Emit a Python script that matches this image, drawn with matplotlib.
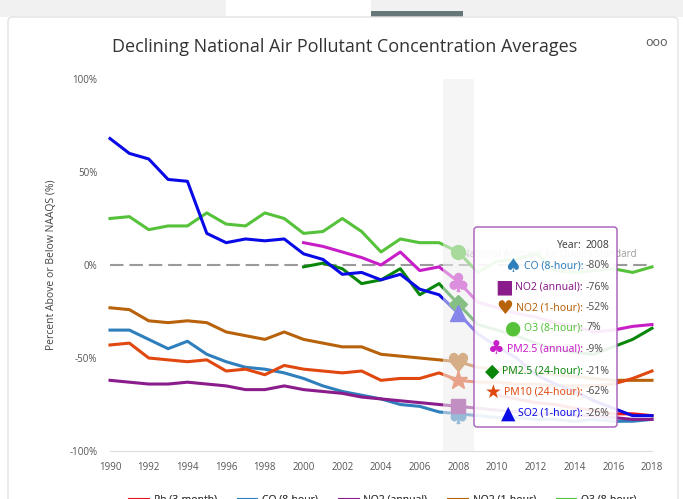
import numpy as np
import matplotlib
matplotlib.use("Agg")
import matplotlib.pyplot as plt
from matplotlib.patches import FancyBboxPatch, Rectangle
from matplotlib.offsetbox import TextArea, HPacker, AnnotationBbox

plt.rcParams['font.family'] = ['Open Sans', 'DejaVu Sans']

nan = np.nan
years = list(range(1990, 2019))

pb = [nan] * 20 + [-70, -72, -74, -75, -77, -78, -80, -80, -81]
co = [-35, -35, -40, -45, -41, -48, -52, -55, -56, -58, -61, -65, -68, -70, -72,
      -75, -76, -79, -80, -81, -82, -82, -83, -83, -84, -83, -84, -84, -83]
no2_annual = [-62, -63, -64, -64, -63, -64, -65, -67, -67, -65, -67, -68, -69, -71, -72,
              -73, -74, -75, -76, -77, -78, -79, -80, -80, -81, -81, -82, -83, -83]
no2_1hr = [-23, -24, -30, -31, -30, -31, -36, -38, -40, -36, -40, -42, -44, -44, -48,
           -49, -50, -51, -52, -55, -56, -57, -58, -59, -60, -61, -62, -62, -62]
o3 = [25, 26, 19, 21, 21, 28, 22, 21, 28, 25, 17, 18, 25, 18, 7,
      14, 12, 12, 7, -4, 2, 3, 6, -3, -4, -3, -2, -4, -1]
pm25_annual = [nan] * 10 + [12, 10, 7, 4, 0, 7, -3, -1, -9, -20, -23, -26, -28, -31,
                            -33, -36, -35, -33, -32]
pm25_24hr = [nan] * 10 + [-1, 1, -2, -10, -8, -2, -16, -10, -21, -32, -35, -38, -42,
                          -45, -47, -48, -44, -40, -34]
pm10 = [-43, -42, -50, -51, -52, -51, -57, -56, -59, -54, -56, -57, -58, -57, -62,
        -61, -61, -58, -62, -63, -63, -64, -64, -65, -65, -65, -64, -61, -57]
so2 = [68, 60, 57, 46, 45, 17, 12, 14, 13, 14, 6, 3, -5, -4, -8,
       -5, -13, -16, -26, -37, -44, -50, -59, -64, -68, -73, -77, -81, -81]

names = ['Pb (3-month)', 'CO (8-hour)', 'NO2 (annual)', 'NO2 (1-hour)', 'O3 (8-hour)',
         'PM2.5 (annual)', 'PM2.5 (24-hour)', 'PM10 (24-hour)', 'SO2 (1-hour)']
series = [pb, co, no2_annual, no2_1hr, o3, pm25_annual, pm25_24hr, pm10, so2]
colors = ['#e8141c', '#2f7fbd', '#8b1c8b', '#b8620b', '#55c23a',
          '#c81ec8', '#0a870a', '#e0480f', '#0a0ae6']
markers = [None, '$\u2660$', 's', '$\u2665$', 'o', '$\u2663$', 'D', '*', '^']
msizes = [0, 13, 10, 13, 10, 13, 9, 14, 11]
glyphs = [None, '\u2660', '\u25A0', '\u2665', '\u25CF', '\u2663', '\u25C6', '\u2605', '\u25B2']

hover_year = 2008

fig = plt.figure(figsize=(6.83, 4.99), dpi=100)
fig.patch.set_facecolor('white')

# page chrome round the card
fig.patches.append(Rectangle((0, 1 - 17 / 499), 1, 17 / 499, transform=fig.transFigure,
                             facecolor='#f1f1f1', edgecolor='none', zorder=-2))
fig.patches.append(Rectangle((226 / 683, 1 - 17 / 499), 145 / 683, 17 / 499,
                             transform=fig.transFigure, facecolor='white',
                             edgecolor='none', zorder=-2))
fig.patches.append(Rectangle((371 / 683, 1 - 17 / 499), 92 / 683, 6 / 499,
                             transform=fig.transFigure, facecolor='#66777a',
                             edgecolor='none', zorder=-2))
fig.patches.append(FancyBboxPatch((8 / 683, -0.05), 670 / 683, 1.05 - 17 / 499,
                                  boxstyle='round,pad=0,rounding_size=0.008',
                                  transform=fig.transFigure, facecolor='white',
                                  edgecolor='#e3e3e3', lw=1, zorder=-1))

ax = fig.add_axes([110 / 683, 1 - 451 / 499, 542 / 683, 372 / 499])
ax.set_facecolor('none')
ax.set_zorder(1)

lines = []
for name, vals, col in zip(names, series, colors):
    ln, = ax.plot(years, vals, color=col, lw=2.2, label=name, zorder=2,
                  solid_joinstyle='round', clip_on=False)
    lines.append(ln)

# standard line
ax.plot([years[0], years[-1]], [0, 0], color='#9a9a9a', lw=1.5,
        dashes=(6.5, 2.8), zorder=1.5)
ax.text(2017.2, 5.4, 'National Ambient Air Quality Standard', ha='right',
        va='center', color='#9a9a9a', fontsize=7, zorder=1.5)

# hover markers
i = years.index(hover_year)
for vals, col, mk, ms in zip(series, colors, markers, msizes):
    if mk is None or np.isnan(vals[i]):
        continue
    ax.plot(years[i], vals[i], marker=mk, ms=ms, color=col, mec=col,
            ls='none', zorder=2.5, clip_on=False)

# hover band
ax.axvspan(hover_year - 0.8, hover_year + 0.8, color='#eeeeee', alpha=0.55,
           lw=0, zorder=3)

ax.set_xlim(1990, 2018)
ax.set_ylim(-100, 100)
ax.set_xticks(range(1990, 2019, 2))
ax.set_yticks([-100, -50, 0, 50, 100])
ax.set_yticklabels(['-100%', '-50%', '0%', '50%', '100%'])
ax.tick_params(length=0, labelsize=7, colors='#555555')
ax.tick_params(axis='y', pad=9)
ax.tick_params(axis='x', pad=8)
for s in ['left', 'right', 'top']:
    ax.spines[s].set_visible(False)
ax.spines['bottom'].set_color('#dcdcdc')
ax.set_ylabel('Percent Above or Below NAAQS (%)', fontsize=7.5, color='#444444',
              labelpad=9)

fig.text(345 / 683, 1 - 47 / 499, 'Declining National Air Pollutant Concentration Averages',
         ha='center', va='center', fontsize=13, color='#333333')
fig.text(656 / 683, 1 - 42 / 499, 'ooo', ha='center', va='center', fontsize=9,
         color='#555555')

# legend: first row of five, the rest wraps below the card edge
leg_kw = dict(frameon=False, fontsize=7.5, handlelength=1.8, handletextpad=0.55,
              columnspacing=2.0, borderpad=0, labelcolor='#444444')
leg1 = fig.legend(lines[:5], names[:5], loc='upper left',
                  bbox_to_anchor=(124 / 683, 1 - 489 / 499), ncol=5, **leg_kw)
fig.legend(lines[5:], names[5:], loc='upper left',
           bbox_to_anchor=(124 / 683, 1 - 506 / 499), ncol=4, **leg_kw)
fig.add_artist(leg1)

# tooltip on an overlay axes in pixel units, above the chart
tip = fig.add_axes([0, 0, 1, 1])
tip.set_zorder(5)
tip.set_xlim(0, 683)
tip.set_ylim(499, 0)
tip.axis('off')
tip.patch.set_visible(False)
tip.add_patch(FancyBboxPatch((474, 227), 143, 200,
                             boxstyle='round,pad=0,rounding_size=3',
                             facecolor='white', alpha=0.92,
                             edgecolor='#a65cb8', lw=1.1))
tip_font = ['Noto Sans', 'DejaVu Sans']
row_y = [266, 287, 308, 328, 349, 371, 392, 413]
tip.text(582, 245, 'Year:', ha='right', va='center', fontsize=7.5,
         fontweight='bold', color='#444444', family=tip_font)
tip.text(586, 245, str(hover_year), ha='left', va='center',
         fontsize=7.5, color='#444444', family=tip_font)
k = 0
for name, vals, col, g in zip(names, series, colors, glyphs):
    if g is None or np.isnan(vals[i]):
        continue
    box = HPacker(children=[
        TextArea(g, textprops=dict(color=col, fontsize=13.5, family=['DejaVu Sans'])),
        TextArea(name + ':', textprops=dict(color=col, fontsize=7.5, fontweight='bold',
                                            family=tip_font))],
        align='center', pad=0, sep=2)
    ab = AnnotationBbox(box, (583, row_y[k]), xycoords='data',
                        box_alignment=(1, 0.5), frameon=False, pad=0)
    tip.add_artist(ab)
    tip.text(586, row_y[k], f'{vals[i]:.0f}%', ha='left', va='center',
             fontsize=7.5, color='#555555', family=tip_font)
    k += 1

fig.savefig('out.png', dpi=100)
